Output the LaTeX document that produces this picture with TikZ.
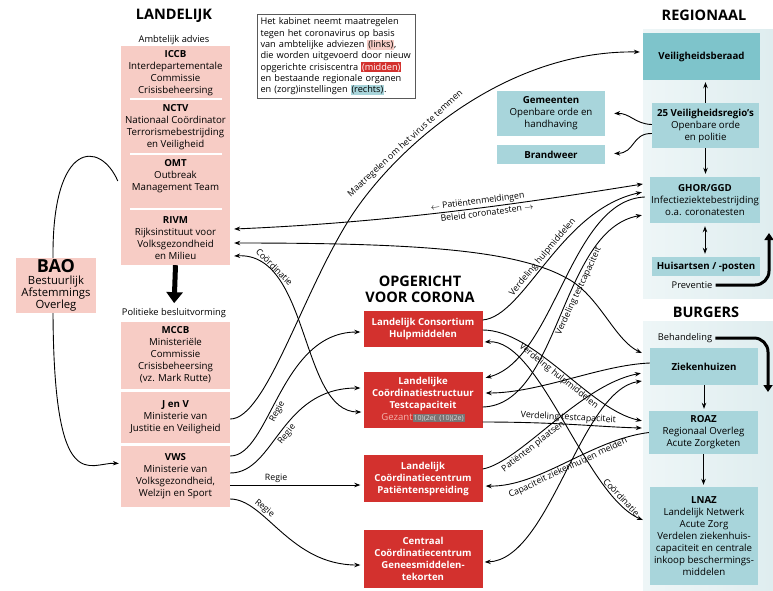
\documentclass[tikz,border=0pt]{standalone}
\usepackage{fontspec}
\setmainfont{Open Sans}
\usetikzlibrary{calc,arrows.meta}
\definecolor{pinkbox}{HTML}{F7CCC5}
\definecolor{redbox}{HTML}{D3312E}
\definecolor{tealdark}{HTML}{7EC4CB}
\definecolor{teallight}{HTML}{A8D5DB}
\definecolor{panelL}{HTML}{EEF6F7}
\definecolor{panelR}{HTML}{DFEDEF}
\definecolor{gezantc}{HTML}{F2B3AC}
\definecolor{gezantbg}{HTML}{7A7474}
\newcommand{\hlbox}[2]{{\setlength{\fboxsep}{0.8pt}\colorbox{#1}{#2}}}
\begin{document}
\begin{tikzpicture}[x=1pt,y=-1pt,
 base/.style={inner sep=0pt, align=center, font=\fontsize{9.7}{12}\selectfont},
 pinkb/.style={base, fill=pinkbox},
 redb/.style={base, fill=redbox, text=white, font=\fontsize{9.6}{12}\selectfont\bfseries},
 tealb/.style={base, fill=teallight},
 tealdb/.style={base, fill=tealdark},
 boldtxt/.style={font=\fontsize{9.7}{12}\selectfont\bfseries},
 title/.style={inner sep=0pt, align=center, font=\fontsize{14.5}{15.5}\selectfont\bfseries},
 small/.style={inner sep=0pt, font=\fontsize{9.3}{10}\selectfont},
 panel/.style={inner sep=0pt, left color=panelL, right color=panelR},
 conn/.style={line width=0.9pt, -{Stealth[length=6pt,width=4.5pt]}, shorten >=1pt},
 conn2/.style={line width=0.9pt, {Stealth[length=6pt,width=4.5pt]}-{Stealth[length=6pt,width=4.5pt]}},
 plain/.style={line width=0.9pt},
 lbl/.style={font=\fontsize{8.8}{9.5}\selectfont, inner sep=1.5pt, sloped},
 thickarr/.style={line width=3pt, -{Triangle[length=7pt,width=9pt]}},
]
\useasboundingbox (0,0) rectangle (773,590);

% ---------- right panels ----------
\node[panel, minimum width=130, minimum height=269] (panelA) at (708,163.5) {};
\node[panel, minimum width=130, minimum height=269] (panelB) at (708,455.5) {};

% ---------- titles ----------
\node[title] (landelijk) at (174,16) {LANDELIJK};
\node[title] (regionaal) at (704,15) {REGIONAAL};
\node[title] (burgers) at (706,312) {BURGERS};
\node[title] (opg) at (420,289.5) {OPGERICHT\\VOOR CORONA};

% ---------- left column ----------
\node[small] (ambt) at (174,40) {Ambtelijk advies};
\node[pinkb, minimum width=109, minimum height=219] (landbox) at (175.5,155.5) {};
\node[base, minimum width=109] (iccb) at (175.5,73.5) {\textbf{ICCB}\\Interdepartementale\\Commissie\\Crisisbeheersing};
\node[base, minimum width=109] (nctv) at (175.5,127) {\textbf{NCTV}\\Nationaal Coördinator\\Terrorismebestrijding\\en Veiligheid};
\node[base, minimum width=109] (omt) at (175.5,176) {\textbf{OMT}\\Outbreak\\Management Team};
\node[base, minimum width=109] (rivm) at (175.5,238.5) {\textbf{RIVM}\\Rijksinstituut voor\\Volksgezondheid\\en Milieu};
\draw[white, line width=1.6pt] (130,99) -- (222,99) (130,154) -- (222,154) (130,209) -- (222,209);

\node[small] (polit) at (174,313) {Politieke besluitvorming};
\draw[line width=5pt, -{Triangle[length=11pt,width=16pt]}, shorten >=5pt] (landbox.south) -- (polit.north);

\node[pinkb, minimum width=109, minimum height=67] (mccb) at (175.5,355) {\textbf{MCCB}\\Ministeriële\\Commissie\\Crisisbeheersing\\(vz. Mark Rutte)};
\node[pinkb, minimum width=109, minimum height=51] (jenv) at (175.5,417.5) {\textbf{J en V}\\Ministerie van\\Justitie en Veiligheid};
\node[pinkb, minimum width=109, minimum height=61] (vws) at (175.5,476.5) {\textbf{VWS}\\Ministerie van\\Volksgezondheid,\\Welzijn en Sport};

\node[pinkb, minimum width=80, minimum height=55, font=\fontsize{11.3}{10.5}\selectfont] (bao) at (56,285.5) {{\fontsize{18}{18}\selectfont\bfseries BAO}\\[1pt]Bestuurlijk\\Afstemmings\\Overleg};

\draw[plain] ($(bao.north)+(-3,0)$) .. controls (52,140) and (100,140) .. ($(omt.west)+(-3,5)$);
\draw[conn] ($(bao.south)+(-3,0)$) .. controls (54,500) and (90,462) .. ($(vws.west)+(-1,-13)$);

% ---------- info box ----------
\node[draw=black!65, line width=0.7pt, inner sep=3.5pt, align=left, text width=151pt, font=\fontsize{9.2}{11.3}\selectfont] (info) at (336,56.5) {Het kabinet neemt maatregelen\\tegen het coronavirus op basis\\van ambtelijke adviezen \hlbox{pinkbox}{(links)},\\die worden uitgevoerd door nieuw\\opgerichte crisiscentra \hlbox{redbox}{\color{white}(midden)}\\en bestaande regionale organen\\en (zorg)instellingen \hlbox{teallight}{(rechts)}.};

% ---------- middle (red) ----------
\node[redb, minimum width=119, minimum height=36] (cons) at (423,329) {Landelijk Consortium\\Hulpmiddelen};
\node[redb, minimum width=119, minimum height=56] (testc) at (423,399.5) {Landelijke\\Coördinatiestructuur\\Testcapaciteit\\{\mdseries\color{gezantc}Gezant}{\setlength{\fboxsep}{1pt}\colorbox{gezantbg}{\mdseries\fontsize{7}{7}\selectfont\color{white!85!black}10)(2e(\ \ (10)(2e)}}};
\node[redb, minimum width=119, minimum height=47] (pat) at (423,478.5) {Landelijk\\Coördinatiecentrum\\Patiëntenspreiding};
\node[redb, minimum width=119, minimum height=58] (cent) at (423,559) {Centraal\\Coördinatiecentrum\\Geneesmiddelen-\\tekorten};

% ---------- right boxes ----------
\node[tealdb, boldtxt, minimum width=117, minimum height=47] (vberaad) at (701.5,56.5) {Veiligheidsberaad};
\node[tealb, minimum width=107, minimum height=45] (vr25) at (705.5,125.5) {\textbf{25 Veiligheidsregio's}\\Openbare orde\\en politie};
\node[tealb, minimum width=108, minimum height=45] (gem) at (551,113.5) {\textbf{Gemeenten}\\Openbare orde en\\handhaving};
\node[tealb, boldtxt, minimum width=108, minimum height=19] (brand) at (551,154.5) {Brandweer};
\node[tealb, minimum width=110, minimum height=46] (ghor) at (705,200) {\textbf{GHOR/GGD}\\Infectieziektebestrijding\\o.a. coronatesten};
\node[tealb, boldtxt, minimum width=108, minimum height=19] (huis) at (706,266.5) {Huisartsen / -posten};
\node[small] (prev) at (692,285) {Preventie};
\node[small] (behand) at (685,338) {Behandeling};
\node[tealb, boldtxt, minimum width=108, minimum height=37] (zkh) at (704,366.5) {Ziekenhuizen};
\node[tealb, minimum width=109, minimum height=43] (roaz) at (703.5,432.5) {\textbf{ROAZ}\\Regionaal Overleg\\Acute Zorgketen};
\node[tealb, minimum width=108, minimum height=98] (lnaz) at (704,536) {\textbf{LNAZ}\\Landelijk Netwerk\\Acute Zorg\\Verdelen ziekenhuis-\\capaciteit en centrale\\inkoop beschermings-\\middelen};

\draw[conn, shorten >=2pt] (vr25.north) -- (vr25.north |- vberaad.south);
\draw[conn, shorten >=3pt] (vr25.south) -- (vr25.south |- ghor.north);
\draw[conn2, shorten >=3pt, shorten <=3pt] (ghor.south) -- (ghor.south |- huis.north);
\draw[conn, shorten >=2pt] (zkh.south) -- (zkh.south |- roaz.north);
\draw[conn, shorten >=2pt] (roaz.south) -- (roaz.south |- lnaz.north);

\draw[conn] ($(vr25.west)+(0,-1)$) .. controls (635,124) and (630,113) .. ($(gem.east)+(8,0)$);
\draw[conn] ($(vr25.west)+(0,8)$) .. controls (632,133) and (635,153) .. ($(brand.east)+(8,-1)$);

\coordinate (prevtip) at (769,233);
\coordinate (behtip) at (768,392);
\draw[thickarr, rounded corners=14pt] ($(prev.east)+(3,0)$) -| (prevtip);
\draw[thickarr, rounded corners=14pt] ($(behand.east)+(3,0)$) -| (behtip);

% ---------- connectors ----------
% Maatregelen
\draw[conn] ($(jenv.east)+(0,1.5)$) .. controls (265,419) and (300,300) .. (347,223) .. controls (389,154) and (500,50) .. node[lbl, above, pos=0.33] {Maatregelen om het virus te temmen} ($(vberaad.west)+(-2,-4.5)$);
% Regie lines
\draw[conn] ($(vws.east)+(0,-20.5)$) .. controls (270,456) and (280,332) .. node[lbl, below, pos=0.42] {Regie} ($(cons.west)+(-2,3)$);
\draw[conn] ($(vws.east)+(0,-3.5)$) .. controls (275,473) and (280,388) .. node[lbl, below, pos=0.5] {Regie} ($(testc.west)+(-2,-11.5)$);
\draw[conn] ($(vws.east)+(0,8.5)$) -- node[lbl, above, pos=0.35] {Regie} ($(pat.west)+(-2,6.5)$);
\draw[conn] ($(vws.east)+(0,22.5)$) .. controls (265,499) and (290,565) .. node[lbl, above, pos=0.3] {Regie} ($(cent.west)+(-2,6)$);
% RIVM - Testcap
\draw[conn2] ($(rivm.east)+(4,17.5)$) .. controls (310,252) and (300,412) .. node[lbl, above, pos=0.2] {Coördinatie} ($(testc.west)+(-2,12.5)$);
% RIVM - GHOR
\draw[conn2] ($(rivm.east)+(4,-9.5)$) .. controls (400,222) and (530,202) .. node[lbl, above, pos=0.55] {$\leftarrow$ Patiëntenmeldingen} node[lbl, below, pos=0.57] {Beleid coronatesten $\rightarrow$} ($(ghor.west)+(-7,-16)$);
% RIVM - Ziekenhuizen
\draw[conn2] ($(rivm.east)+(4,4.5)$) .. controls (420,243) and (520,250) .. (570,280) .. controls (600,298) and (615,340) .. ($(zkh.west)+(-8,-13.5)$);
% Consortium
\draw[conn] ($(cons.east)+(0,-9)$) .. controls (525,316) and (560,210) .. node[lbl, above, pos=0.5] {Verdeling hulpmiddelen} ($(ghor.west)+(-7,-8)$);
\draw[conn] ($(cons.east)+(0,1)$) .. controls (535,330) and (590,410) .. node[lbl, below, pos=0.5] {Verdeling hulpmiddelen} ($(roaz.west)+(-6,-11.5)$);
\draw[conn2] ($(cons.east)+(2,13)$) .. controls (540,338) and (585,495) .. node[lbl, above, pos=0.85] {Coördinatie} ($(lnaz.west)+(-7,-16)$);
% Testcap
\draw[conn] ($(ghor.west)+(-5,-3)$) .. controls (570,200) and (555,360) .. ($(testc.east)+(2,-21.5)$);
\draw[conn] ($(testc.east)+(0,7.5)$) .. controls (560,405) and (560,230) .. node[lbl, below, pos=0.6] {Verdeling testcapaciteit} ($(ghor.west)+(-7,15)$);
\draw[conn] ($(zkh.west)+(0,-3.5)$) .. controls (600,365) and (540,393) .. ($(testc.east)+(2,-6.5)$);
\draw[conn] ($(testc.east)+(0,22.5)$) .. controls (560,422) and (600,427) .. node[lbl, above, pos=0.45] {Verdeling testcapaciteit} ($(roaz.west)+(-6,-4.5)$);
% Patientenspreiding
\draw[conn] ($(pat.east)+(0,-9.5)$) .. controls (520,462) and (580,385) .. node[lbl, below, pos=0.35] {Patiënten plaatsen} ($(zkh.west)+(-8,6.5)$);
\draw[conn] (roaz.west) .. controls (590,440) and (540,487) .. node[lbl, below, pos=0.5] {Capaciteit ziekenhuizen melden} ($(pat.east)+(2,7.5)$);
% Centraal
\draw[conn2] ($(cent.east)+(2,3)$) .. controls (550,560) and (580,390) .. ($(zkh.west)+(-8,14.5)$);
\end{tikzpicture}
\end{document}
